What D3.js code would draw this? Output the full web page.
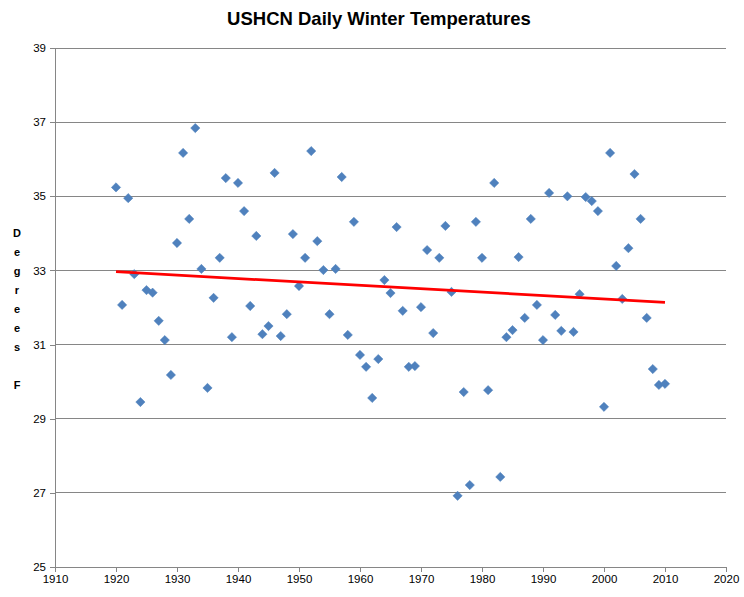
<!DOCTYPE html>
<html><head><meta charset="utf-8">
<script src="https://cdn.jsdelivr.net/npm/d3@7"></script>
<style>body{margin:0;background:#fff}svg{display:block}</style>
</head><body>
<svg id="c" width="744" height="597"></svg>
<script>
const years = d3.range(1920, 2011);
const temps = [
35.24,32.07,34.95,32.90,29.45,32.47,32.40,31.64,31.12,30.18,
33.74,36.17,34.39,36.84,33.04,29.83,32.26,33.34,35.49,31.20,
35.36,34.60,32.04,33.93,31.28,31.50,35.63,31.23,31.82,33.98,
32.58,33.34,36.22,33.79,33.01,31.82,33.04,35.52,31.26,34.31,
30.72,30.40,29.56,30.61,32.74,32.39,34.17,31.91,30.40,30.42,
32.01,33.55,31.31,33.34,34.20,32.42,26.92,29.72,27.21,34.31,
33.34,29.77,35.36,27.43,31.20,31.39,33.36,31.72,34.39,32.07,
31.12,35.09,31.80,31.37,35.00,31.34,32.36,34.98,34.87,34.60,
29.32,36.17,33.12,32.23,33.60,35.60,34.39,31.72,30.34,29.91,
29.94];
const xTicks = d3.range(1910, 2021, 10);
const yTicks = [25,27,29,31,33,35,37,39];
const title = "USHCN Daily Winter Temperatures";
const yTitle = "Degrees F";

const svg = d3.select("#c");
const L = 55, R = 726, T = 48, B = 567;
const x = d3.scaleLinear().domain([1910, 2020]).range([L, R]);
const y = d3.scaleLinear().domain([25, 39]).range([B, T]);

// gridlines
svg.append("g").selectAll("line").data(yTicks.filter(d => d > 25)).join("line")
  .attr("x1", L).attr("x2", R).attr("y1", d => y(d)).attr("y2", d => y(d))
  .attr("stroke", "#868686").attr("stroke-width", 1).attr("shape-rendering", "crispEdges");

const yAxis = svg.append("g").attr("transform", `translate(${L},0)`)
  .call(d3.axisLeft(y).tickValues(yTicks).tickSize(5).tickPadding(4).tickFormat(d3.format("d")));
const xAxis = svg.append("g").attr("transform", `translate(0,${B})`)
  .call(d3.axisBottom(x).tickValues(xTicks).tickSize(5).tickPadding(3).tickFormat(d3.format("d")));
[yAxis, xAxis].forEach(a => {
  a.select(".domain").attr("stroke", "#868686").attr("shape-rendering", "crispEdges");
  a.selectAll(".tick line").attr("stroke", "#868686").attr("shape-rendering", "crispEdges");
  a.selectAll("text").attr("font-family", "Liberation Sans, Arial, sans-serif").attr("font-size", 11.5).attr("fill", "#000");
});

// points
const data = years.map((yr, i) => ({yr, t: temps[i]}));
const diamond = d3.symbol().type(d3.symbolDiamond2).size(55);
svg.append("g").selectAll("path").data(data).join("path")
  .attr("d", diamond)
  .attr("transform", d => `translate(${x(d.yr)},${y(d.t)})`)
  .attr("fill", "#4F81BD").attr("stroke", "#4A7EBB").attr("stroke-width", 0.5);

// linear trend
const mx = d3.mean(data, d => d.yr), my = d3.mean(data, d => d.t);
const slope = d3.sum(data, d => (d.yr - mx) * (d.t - my)) / d3.sum(data, d => (d.yr - mx) ** 2);
const icpt = my - slope * mx;
const ends = d3.extent(years);
svg.append("line")
  .attr("x1", x(ends[0])).attr("y1", y(icpt + slope * ends[0]))
  .attr("x2", x(ends[1])).attr("y2", y(icpt + slope * ends[1]))
  .attr("stroke", "#FF0000").attr("stroke-width", 2.75);

// title
svg.append("text").attr("x", 379).attr("y", 25).attr("text-anchor", "middle")
  .attr("font-family", "Liberation Sans, Arial, sans-serif").attr("font-weight", "bold")
  .attr("font-size", 18.5).text(title);

// y title stacked letters
const yt = svg.append("text").attr("font-family", "Liberation Sans, Arial, sans-serif")
  .attr("font-weight", "bold").attr("font-size", 11).attr("text-anchor", "middle");
yt.selectAll("tspan").data(yTitle.split("")).join("tspan")
  .attr("x", 17).attr("y", (d, i) => 237 + i * 19).text(d => d === " " ? "\u00a0" : d);
</script>
</body></html>
